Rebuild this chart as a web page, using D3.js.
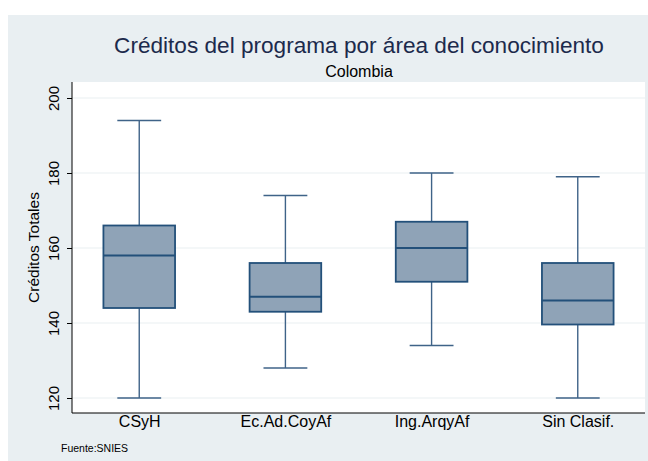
<!DOCTYPE html>
<html><head><meta charset="utf-8">
<script src="https://cdn.jsdelivr.net/npm/d3@7"></script>
<style>body{margin:0;background:#fff}svg{display:block}text{font-family:"Liberation Sans",Arial,Helvetica,sans-serif}</style>
</head><body><div id="chart"></div>
<script>
const categories = ["CSyH", "Ec.Ad.CoyAf", "Ing.ArqyAf", "Sin Clasif."];
const whiskerLow = [120, 128, 134, 120];
const q1 = [144, 143, 151, 139.6];
const median = [158, 147, 160, 146];
const q3 = [166, 156, 167, 156];
const whiskerHigh = [194, 174, 180, 179];
const yTicks = [120, 140, 160, 180, 200];
const title = "Créditos del programa por área del conocimiento";
const subtitle = "Colombia";
const yLabel = "Créditos Totales";
const note = "Fuente:SNIES";

const W = 648, H = 461;
const svg = d3.select("#chart").append("svg").attr("width", W).attr("height", H);
svg.append("rect").attr("x", 8).attr("y", 15).attr("width", W - 8).attr("height", H - 15).attr("fill", "#e9eff2");

const L = 72, R = 645, T = 82, B = 413;
svg.append("rect").attr("x", L).attr("y", T).attr("width", R - L).attr("height", B - T).attr("fill", "#fff");

const y = d3.scaleLinear().domain([120, 200]).range([398, 98]);
const x = d3.scalePoint().domain(categories).range([L, R]).padding(0.46);
const step = x.step();

// gridlines
svg.append("g").selectAll("line").data(yTicks).join("line")
  .attr("x1", L).attr("x2", R).attr("y1", d => y(d)).attr("y2", d => y(d))
  .attr("stroke", "#eaf0f2").attr("stroke-width", 1.2);

// y axis
const ya = svg.append("g").attr("transform", `translate(${L},0)`)
  .call(d3.axisLeft(y).tickValues(yTicks).tickSize(5).tickSizeOuter(0));
ya.select(".domain").remove();
ya.selectAll("line").attr("stroke", "#000");
ya.selectAll("text").remove();
ya.selectAll(".tick").append("text")
  .attr("transform", "translate(-18,0) rotate(-90)")
  .attr("text-anchor", "middle").attr("dy", "0.35em")
  .attr("font-size", 15).attr("fill", "#000")
  .text(d => d);
svg.append("line").attr("x1", L).attr("x2", L).attr("y1", T).attr("y2", B).attr("stroke", "#000");
svg.append("line").attr("x1", L).attr("x2", R).attr("y1", B).attr("y2", B).attr("stroke", "#000");

// x axis labels
const xa = svg.append("g").attr("transform", `translate(0,${B})`)
  .call(d3.axisBottom(x).tickSize(0).tickPadding(3));
xa.select(".domain").remove();
xa.selectAll("text").attr("font-size", 16).attr("fill", "#000");

// boxes
const data = categories.map((c, i) => ({c, lo: whiskerLow[i], q1: q1[i], med: median[i], q3: q3[i], hi: whiskerHigh[i]}));
const bw = step * 0.49, cw = step * 0.3;
const g = svg.append("g").selectAll("g").data(data).join("g").attr("transform", d => `translate(${x(d.c)},0)`);
g.append("line").attr("y1", d => y(d.hi)).attr("y2", d => y(d.q3)).attr("stroke", "#3f6388").attr("stroke-width", 1.4);
g.append("line").attr("y1", d => y(d.q1)).attr("y2", d => y(d.lo)).attr("stroke", "#3f6388").attr("stroke-width", 1.4);
g.append("line").attr("x1", -cw/2).attr("x2", cw/2).attr("y1", d => y(d.hi)).attr("y2", d => y(d.hi)).attr("stroke", "#3f6388").attr("stroke-width", 1.4);
g.append("line").attr("x1", -cw/2).attr("x2", cw/2).attr("y1", d => y(d.lo)).attr("y2", d => y(d.lo)).attr("stroke", "#3f6388").attr("stroke-width", 1.4);
g.append("rect").attr("x", -bw/2).attr("width", bw).attr("y", d => y(d.q3)).attr("height", d => y(d.q1) - y(d.q3))
  .attr("fill", "#8fa3b7").attr("stroke", "#23507a").attr("stroke-width", 1.8);
g.append("line").attr("x1", -bw/2).attr("x2", bw/2).attr("y1", d => y(d.med)).attr("y2", d => y(d.med)).attr("stroke", "#23507a").attr("stroke-width", 1.8);

// titles
svg.append("text").attr("x", 359).attr("y", 53).attr("text-anchor", "middle").attr("font-size", 22.6).attr("fill", "#1c2a4c").text(title);
svg.append("text").attr("x", 359).attr("y", 77).attr("text-anchor", "middle").attr("font-size", 16).attr("fill", "#000").text(subtitle);
svg.append("text").attr("transform", `translate(39,${(T + B) / 2}) rotate(-90)`).attr("text-anchor", "middle").attr("font-size", 15.5).attr("fill", "#000").text(yLabel);
svg.append("text").attr("x", 61).attr("y", 452).attr("font-size", 10.5).attr("fill", "#000").text(note);
</script></body></html>
